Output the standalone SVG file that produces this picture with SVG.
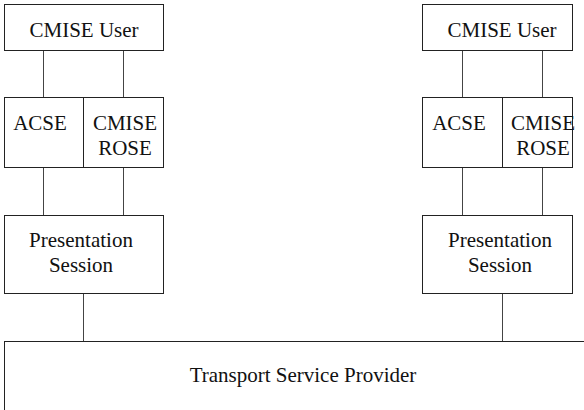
<svg xmlns="http://www.w3.org/2000/svg" width="584" height="410" viewBox="0 0 584 410">
<style>
.b{fill:#fff;stroke:#222;stroke-width:1}
.c{stroke:#444;stroke-width:1;fill:none}
text{font-family:"Liberation Serif","Times New Roman",serif;font-size:21px;fill:#111;text-anchor:middle}
</style>
<rect width="584" height="410" fill="#fff"/>
<g id="connectors">
<line class="c" x1="43.5" y1="51" x2="43.5" y2="97"/>
<line class="c" x1="123.5" y1="51" x2="123.5" y2="97"/>
<line class="c" x1="43.5" y1="167" x2="43.5" y2="215"/>
<line class="c" x1="123.5" y1="167" x2="123.5" y2="215"/>
<line class="c" x1="83.5" y1="293" x2="83.5" y2="341"/>
<line class="c" x1="462.5" y1="51" x2="462.5" y2="97"/>
<line class="c" x1="542.5" y1="51" x2="542.5" y2="97"/>
<line class="c" x1="462.5" y1="167" x2="462.5" y2="215"/>
<line class="c" x1="542.5" y1="167" x2="542.5" y2="215"/>
<line class="c" x1="502.5" y1="293" x2="502.5" y2="341"/>
</g>
<g id="user-left"><rect class="b" x="4.5" y="4.5" width="159" height="46"/><text x="84" y="37">CMISE User</text></g>
<g id="acse-left"><rect class="b" x="4.5" y="97.5" width="79" height="70"/><text x="40" y="130">ACSE</text></g>
<g id="cmise-left"><rect class="b" x="83.5" y="97.5" width="80" height="70"/><text x="125" y="130">CMISE</text><text x="125" y="155">ROSE</text></g>
<g id="pres-left"><rect class="b" x="4.5" y="215.5" width="159" height="78"/><text x="81" y="247">Presentation</text><text x="81" y="272">Session</text></g>
<g id="user-right"><rect class="b" x="422.5" y="4.5" width="150" height="46"/><text x="502" y="37">CMISE User</text></g>
<g id="acse-right"><rect class="b" x="422.5" y="97.5" width="80" height="70"/><text x="459" y="130">ACSE</text></g>
<g id="cmise-right"><rect class="b" x="502.5" y="97.5" width="70" height="70"/><text x="543" y="130">CMISE</text><text x="543" y="155">ROSE</text></g>
<g id="pres-right"><rect class="b" x="422.5" y="215.5" width="150" height="78"/><text x="500" y="247">Presentation</text><text x="500" y="272">Session</text></g>
<g id="transport"><rect class="b" x="4.5" y="341.5" width="620" height="100"/><text x="303" y="382">Transport Service Provider</text></g>
</svg>
